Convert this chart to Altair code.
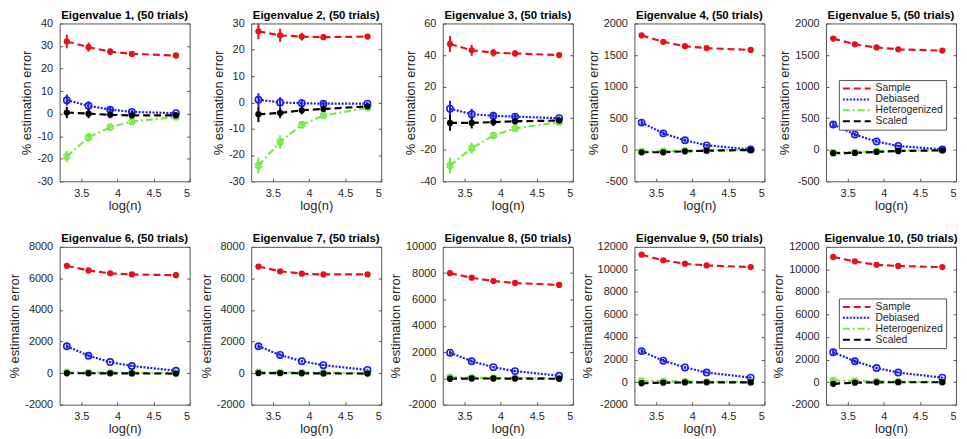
import altair as alt
import pandas as pd

SERIES = ["Sample", "Debiased", "Heterogenized", "Scaled"]
COLORS = ["#e6121a", "#1c1ce6", "#74ea48", "#000000"]
DASHES = [[7, 4], [2, 1.5], [7, 3, 2, 3], [7, 4]]

LOG_N = [3.30, 3.60, 3.90, 4.20, 4.81]
X_TICKS = [3.5, 4, 4.5, 5]

TITLES = [f"Eigenvalue {i}, (50 trials)" for i in range(1, 11)]
Y_MIN = [-30, -30, -40, -500, -500, -2000, -2000, -2000, -2000, -2000]
Y_MAX = [40, 30, 60, 2000, 2000, 8000, 8000, 10000, 12000, 12000]
Y_STEP = [10, 10, 20, 500, 500, 2000, 2000, 2000, 2000, 2000]

SAMPLE = [
    [32, 29.5, 27.5, 26.5, 25.8],
    [27, 25.5, 25, 24.8, 25],
    [47, 43, 41.5, 41, 40],
    [1810, 1710, 1640, 1610, 1580],
    [1760, 1670, 1620, 1590, 1570],
    [6800, 6500, 6320, 6250, 6200],
    [6750, 6450, 6300, 6250, 6250],
    [8000, 7650, 7400, 7250, 7100],
    [11300, 10800, 10500, 10350, 10200],
    [11100, 10700, 10400, 10300, 10200],
]
DEBIASED = [
    [6, 3.5, 1.8, 0.8, 0.2],
    [1, 0, -0.3, -0.5, -0.5],
    [6, 2.5, 1.5, 1, 0],
    [430, 260, 150, 70, 5],
    [400, 240, 130, 60, 5],
    [1700, 1100, 700, 450, 150],
    [1700, 1150, 750, 500, 200],
    [1950, 1300, 850, 550, 200],
    [2750, 1900, 1300, 850, 400],
    [2650, 1850, 1250, 850, 400],
]
HETERO = [
    [-19, -10.5, -6, -3.5, -1.5],
    [-24, -15, -8.5, -5, -2],
    [-30, -19, -11, -6.5, -2.5],
    [-30, -25, -15, -10, 0],
    [-45, -40, -25, -15, -5],
    [60, 40, 25, 15, 5],
    [60, 40, 25, 15, 5],
    [80, 50, 30, 20, 5],
    [120, 80, 50, 30, 10],
    [150, 100, 60, 40, 10],
]
SCALED = [
    [0.5, 0, -0.5, -0.8, -0.8],
    [-4.5, -4, -3, -2.5, -1.5],
    [-3, -3, -2.5, -2, -1.5],
    [-40, -40, -25, -15, -5],
    [-55, -50, -35, -20, -10],
    [-10, -10, -15, -20, -30],
    [0, 0, -10, -20, -30],
    [-30, -10, -10, -20, -30],
    [-100, -50, -30, -20, -30],
    [-150, -50, -20, -10, -10],
]

ERR_SAMPLE = [
    [3, 2, 1.5, 1, 0.8], [3, 2.5, 1.5, 1, 0.6], [5, 3.5, 2.5, 2, 1],
    [40, 30, 25, 20, 15], [40, 30, 25, 20, 15],
    [120, 90, 70, 50, 40], [120, 90, 70, 50, 40], [150, 110, 80, 60, 45],
    [200, 150, 110, 80, 60], [200, 150, 110, 80, 60],
]
ERR_DEBIASED = [
    [2.5, 2, 1.5, 1, 0.6], [2.5, 2, 1.5, 1, 0.6], [5, 3.5, 2.5, 2, 1],
    [40, 30, 25, 20, 15], [40, 30, 25, 20, 15],
    [120, 90, 70, 50, 40], [120, 90, 70, 50, 40], [150, 110, 80, 60, 45],
    [200, 150, 110, 80, 60], [200, 150, 110, 80, 60],
]
ERR_HETERO = [
    [2.5, 2, 1.5, 1, 0.6], [3, 2.5, 1.5, 1, 0.6], [5, 3.5, 2.5, 2, 1],
    [40, 30, 25, 20, 15], [40, 30, 25, 20, 15],
    [120, 90, 70, 50, 40], [120, 90, 70, 50, 40], [150, 110, 80, 60, 45],
    [200, 150, 110, 80, 60], [200, 150, 110, 80, 60],
]
ERR_SCALED = [
    [2.5, 2, 1.5, 1, 0.6], [3, 2, 1.5, 1, 0.6], [5, 3.5, 2.5, 2, 1],
    [40, 30, 25, 20, 15], [40, 30, 25, 20, 15],
    [120, 90, 70, 50, 40], [120, 90, 70, 50, 40], [150, 110, 80, 60, 45],
    [200, 150, 110, 80, 60], [200, 150, 110, 80, 60],
]

LEGEND_FRAC = {4: 0.358, 9: 0.33}

FONT = "Liberation Sans"
W, H = 131, 159
TICK = 3


def panel(i):
    rows = []
    groups = [
        (SERIES[0], SAMPLE[i], ERR_SAMPLE[i]),
        (SERIES[1], DEBIASED[i], ERR_DEBIASED[i]),
        (SERIES[2], HETERO[i], ERR_HETERO[i]),
        (SERIES[3], SCALED[i], ERR_SCALED[i]),
    ]
    for name, vals, errs in groups:
        for x, v, e in zip(LOG_N, vals, errs):
            rows.append({"x": x, "y": v, "lo": v - e, "hi": v + e, "series": name})
    df = pd.DataFrame(rows)

    yticks = list(range(Y_MIN[i], Y_MAX[i] + 1, Y_STEP[i]))
    xscale = alt.Scale(domain=[3.2, 5], nice=False, zero=False)
    yscale = alt.Scale(domain=[Y_MIN[i], Y_MAX[i]], nice=False, zero=False)
    xaxis = alt.Axis(values=X_TICKS, title="log(n)", labelExpr="'' + datum.value",
                     offset=-TICK, tickSize=TICK, labelPadding=3 + TICK)
    yaxis = alt.Axis(values=yticks, title="% estimation error", labelExpr="'' + datum.value",
                     offset=-TICK, tickSize=TICK, labelPadding=4 + TICK)
    yaxis_right = alt.Axis(values=yticks, orient="right", title=None, labels=False,
                           offset=-TICK, tickSize=TICK, minExtent=0, maxExtent=0, labelPadding=0)
    cscale = alt.Scale(domain=SERIES, range=COLORS)
    dscale = alt.Scale(domain=SERIES, range=DASHES)

    if i in LEGEND_FRAC:
        legend = alt.Legend(
            title=None, orient="none", legendX=13, legendY=round(LEGEND_FRAC[i] * H),
            fillColor="white", strokeColor="#555555", padding=3,
            symbolType="stroke", symbolSize=784, symbolStrokeWidth=2,
            labelFont=FONT, labelFontSize=10.4, labelColor="#222222",
            rowPadding=0, clipHeight=11, labelOffset=4,
        )
    else:
        legend = None

    base = alt.Chart(df)

    def xy(ycol="y", xaxis_=None, yaxis_=None):
        return dict(
            x=alt.X("x:Q", scale=xscale, axis=xaxis_),
            y=alt.Y(f"{ycol}:Q", scale=yscale, axis=yaxis_),
        )

    line = base.mark_line(strokeWidth=2.2).encode(
        **xy("y", xaxis, yaxis),
        color=alt.Color("series:N", scale=cscale, legend=legend),
        strokeDash=alt.StrokeDash("series:N", scale=dscale, legend=legend),
    )
    frame_ticks = base.mark_point(opacity=0).encode(
        **xy("y", None, yaxis_right),
    )
    err = base.mark_rule(strokeWidth=2).encode(
        **xy("lo"),
        y2="hi:Q",
        color=alt.Color("series:N", scale=cscale, legend=None),
    )
    filled = base.mark_point(filled=True, size=40, shape="circle", opacity=1).encode(
        **xy(),
        color=alt.Color("series:N", scale=cscale, legend=None),
    ).transform_filter(alt.FieldOneOfPredicate(field="series", oneOf=["Sample", "Scaled"]))
    hollow = base.mark_point(filled=False, size=40, shape="circle", strokeWidth=1.6, opacity=1).encode(
        **xy(),
        color=alt.Color("series:N", scale=cscale, legend=None),
    ).transform_filter(alt.FieldOneOfPredicate(field="series", oneOf=["Debiased"]))
    cross = base.mark_point(filled=False, size=36, shape="cross", angle=45, strokeWidth=1.6, opacity=1).encode(
        **xy(),
        color=alt.Color("series:N", scale=cscale, legend=None),
    ).transform_filter(alt.FieldOneOfPredicate(field="series", oneOf=["Heterogenized"]))

    return alt.layer(line, frame_ticks, err, cross, hollow, filled).resolve_axis(
        x="independent", y="independent"
    ).properties(
        width=W, height=H,
        title=alt.TitleParams(TITLES[i]),
    )


panels = [panel(i) for i in range(10)]

chart = alt.concat(
    *panels, columns=5, spacing={"row": 66, "column": 62}, bounds="flush"
).resolve_scale(
    y="independent", color="independent", strokeDash="independent"
).resolve_legend(
    color="independent", strokeDash="independent"
).properties(
    padding={"left": 0, "top": 0, "right": 0, "bottom": 0}
).configure_view(
    stroke="#555555", strokeWidth=1
).configure_axis(
    domain=False, grid=False, tickColor="#555555", tickWidth=1,
    labelFont=FONT, labelFontSize=11, labelColor="#262626",
    titleFont=FONT, titleFontSize=13, titleFontWeight="normal", titleColor="#262626",
    titlePadding=3,
).configure_axisX(
    titlePadding=1,
).configure_title(
    font=FONT, fontSize=11.5, fontWeight="bold", color="#000000", offset=-4
)

chart.save("out.html", embed_options={"renderer": "svg", "actions": False})
